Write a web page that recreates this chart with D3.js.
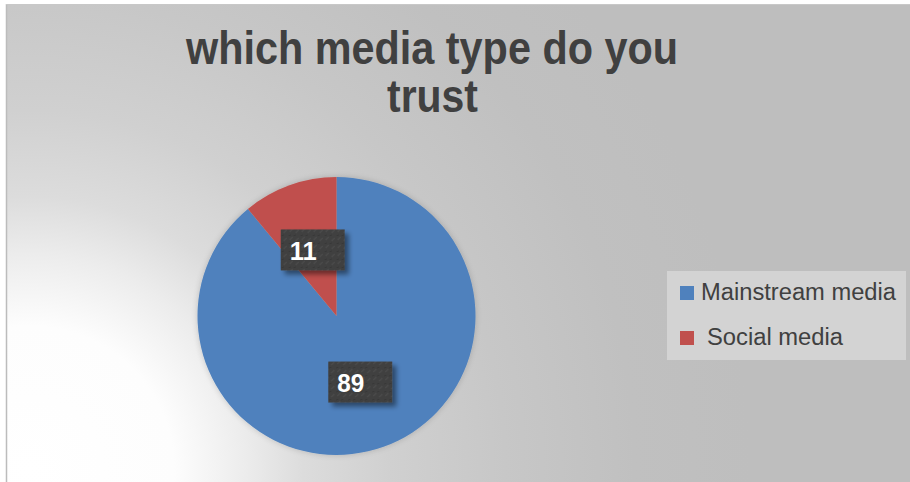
<!DOCTYPE html>
<html>
<head>
<meta charset="utf-8">
<script src="https://cdn.jsdelivr.net/npm/d3@7/dist/d3.min.js"></script>
<style>
  html, body { margin: 0; padding: 0; background: #ffffff; }
  svg { display: block; }
</style>
</head>
<body>
<svg id="chart" width="910" height="482"></svg>
<script>
// Survey answers: which media type people trust (percent)
const categories = ["Mainstream media", "Social media"];
const values = [89, 11];
const colors = ["#4f81bd", "#c0504d"];
const titleLines = ["which media type do you", "trust"];

const svg = d3.select("#chart");
const defs = svg.append("defs");

// Soft radial backdrop: white in the lower-left corner fading to grey
const bg = defs.append("radialGradient")
  .attr("id", "bgGrad")
  .attr("gradientUnits", "userSpaceOnUse")
  .attr("cx", 30).attr("cy", 470).attr("r", 720);
[[0, "#ffffff"], [0.2, "#fdfdfd"], [0.3, "#ececec"], [0.38, "#dcdcdc"], [0.5, "#d0d0d0"],
 [0.66, "#c7c7c7"], [0.84, "#c0c0c0"], [1, "#bebebe"]]
  .forEach(([o, c]) => bg.append("stop").attr("offset", o).attr("stop-color", c));

// Shadow used under the value labels
const sh = defs.append("filter").attr("id", "lblShadow")
  .attr("x", "-30%").attr("y", "-30%").attr("width", "170%").attr("height", "170%");
sh.append("feGaussianBlur").attr("in", "SourceAlpha").attr("stdDeviation", 2.5).attr("result", "b");
sh.append("feOffset").attr("in", "b").attr("dx", 4).attr("dy", 4).attr("result", "o");
sh.append("feComponentTransfer").attr("in", "o").attr("result", "oa")
  .append("feFuncA").attr("type", "linear").attr("slope", 0.45);
const m = sh.append("feMerge");
m.append("feMergeNode").attr("in", "oa");
m.append("feMergeNode").attr("in", "SourceGraphic");

// Faint shadow around the pie
const ps = defs.append("filter").attr("id", "pieShadow")
  .attr("x", "-20%").attr("y", "-20%").attr("width", "140%").attr("height", "140%");
ps.append("feGaussianBlur").attr("in", "SourceAlpha").attr("stdDeviation", 3).attr("result", "b");
ps.append("feComponentTransfer").attr("in", "b").attr("result", "ba")
  .append("feFuncA").attr("type", "linear").attr("slope", 0.18);
const pm = ps.append("feMerge");
pm.append("feMergeNode").attr("in", "ba");
pm.append("feMergeNode").attr("in", "SourceGraphic");

// Speckled texture for the label boxes
const pat = defs.append("pattern").attr("id", "speckle")
  .attr("patternUnits", "userSpaceOnUse").attr("width", 12).attr("height", 8);
pat.append("rect").attr("width", 12).attr("height", 8).attr("fill", "#404040");
pat.append("path").attr("d", "M1,6 L4,3 M7,7 L10,4").attr("stroke", "#4c4c4c").attr("stroke-width", 1.2);
pat.append("path").attr("d", "M5,2 L7,1 M0,2 L2,1").attr("stroke", "#363636").attr("stroke-width", 1);

// Chart area
svg.append("rect").attr("x", 7).attr("y", 5).attr("width", 903).attr("height", 477)
  .attr("fill", "url(#bgGrad)");
svg.append("line").attr("x1", 6.5).attr("x2", 6.5).attr("y1", 4).attr("y2", 482)
  .attr("stroke", "#bcbcbc").attr("stroke-width", 1.5);
svg.append("line").attr("x1", 6).attr("x2", 910).attr("y1", 4.5).attr("y2", 4.5)
  .attr("stroke", "#c8c8c8").attr("stroke-width", 1);

// Title
const title = svg.append("text")
  .attr("text-anchor", "middle")
  .attr("font-family", "Liberation Sans, Arial, sans-serif")
  .attr("font-weight", "bold")
  .attr("font-size", 46)
  .attr("fill", "#404040");
title.append("tspan").attr("x", 432).attr("y", 64)
  .attr("textLength", 492).attr("lengthAdjust", "spacingAndGlyphs")
  .text(titleLines[0]);
title.append("tspan").attr("x", 432.5).attr("y", 112)
  .attr("textLength", 91).attr("lengthAdjust", "spacingAndGlyphs")
  .text(titleLines[1]);

// Pie
const cx = 336.5, cy = 316, radius = 139;
const pie = d3.pie().sort(null).value(d => d.value).startAngle(0).endAngle(2 * Math.PI);
const data = pie(categories.map((c, i) => ({ name: c, value: values[i], color: colors[i] })));
const arc = d3.arc().innerRadius(0).outerRadius(radius);
const labelArc = d3.arc().innerRadius(radius * 0.505).outerRadius(radius * 0.505);

const g = svg.append("g").attr("transform", `translate(${cx},${cy})`);
g.append("g").attr("filter", "url(#pieShadow)")
  .selectAll("path").data(data).join("path")
  .attr("d", arc)
  .attr("fill", d => d.data.color);

// Value labels in dark boxes
const boxW = 64, boxH = 41;
const lbl = g.selectAll("g.lbl").data(data).join("g")
  .attr("class", "lbl")
  .attr("transform", d => {
    const [x, y] = labelArc.centroid(d);
    return `translate(${x},${y})`;
  });
lbl.append("rect")
  .attr("x", -boxW / 2).attr("y", -boxH / 2)
  .attr("width", boxW).attr("height", boxH)
  .attr("fill", "url(#speckle)")
  .attr("filter", "url(#lblShadow)");
lbl.append("text")
  .attr("x", -boxW / 2 + 9)
  .attr("y", 10)
  .attr("font-family", "Liberation Sans, Arial, sans-serif")
  .attr("font-weight", "bold")
  .attr("font-size", 25)
  .attr("fill", "#ffffff")
  .attr("textLength", d => String(d.data.value).length * 13.5)
  .attr("lengthAdjust", "spacingAndGlyphs")
  .text(d => d.data.value);

// Legend
const legendWidths = [195, 136];
const legend = svg.append("g");
legend.append("rect").attr("x", 667).attr("y", 271).attr("width", 239).attr("height", 89)
  .attr("fill", "#d3d3d3");
const items = legend.selectAll("g.item").data(categories).join("g")
  .attr("class", "item")
  .attr("transform", (d, i) => `translate(680,${286 + i * 45})`);
items.append("rect").attr("width", 14).attr("height", 14)
  .attr("fill", (d, i) => colors[i]);
items.append("text")
  .attr("x", (d, i) => i === 0 ? 21 : 27)
  .attr("y", 13.5)
  .attr("font-family", "Liberation Sans, Arial, sans-serif")
  .attr("font-size", 23)
  .attr("fill", "#404040")
  .attr("textLength", (d, i) => legendWidths[i])
  .attr("lengthAdjust", "spacingAndGlyphs")
  .text(d => d);
</script>
</body>
</html>
